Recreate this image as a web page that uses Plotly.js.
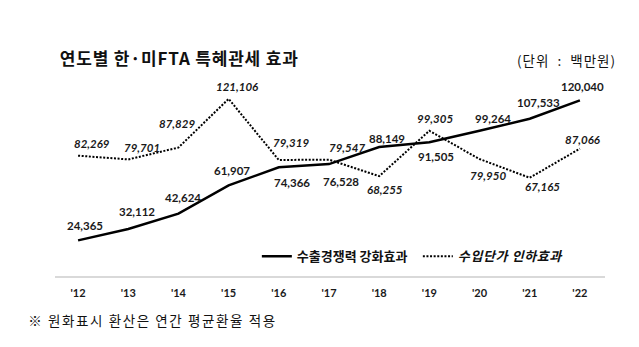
<!DOCTYPE html>
<html>
<head>
<meta charset="utf-8">
<script src="https://cdn.plot.ly/plotly-3.0.1.min.js"></script>
<style>
html,body{margin:0;padding:0;background:#fff;}
#chart{width:639px;height:347px;}
#chart .annotation[data-index="22"] text{letter-spacing:0.8px;}
#chart .annotation[data-index="23"] text{letter-spacing:1px;}
#chart .annotation[data-index="24"] text{letter-spacing:1.6px;}
#chart .legend .traces:nth-of-type(2) text{letter-spacing:0.6px;}
</style>
</head>
<body>
<div id="chart"></div>
<script>
// ---- data ----
const years = ["'12","'13","'14","'15","'16","'17","'18","'19","'20","'21","'22"];
const exportEffect = [24365, 32112, 42624, 61907, 74366, 76528, 88149, 91505, 99264, 107533, 120040];
const importEffect = [82269, 79701, 87829, 121106, 79319, 79547, 68255, 99305, 79950, 67165, 87066];
const seriesNames = ["수출경쟁력 강화효과", "수입단가 인하효과"];

// ---- label placement (pixel offsets from each point) ----
const exportLabelShift = [[7,15],[9,18],[5,16],[3,15],[13,-15],[12,-17],[8,9],[7,-14],[13,12],[9,16],[3,14]];
const importLabelShift = [[14,12],[14,12],[-1,24],[9,12],[12,17],[18,12],[6,-13],[6,12],[8,-16],[13,-9],[3,9]];

const xIdx = years.map((_, i) => i);
const fmt = v => v.toLocaleString('en-US');

const traces = [
  {x: xIdx, y: exportEffect, type: 'scatter', mode: 'lines', name: '<b>' + seriesNames[0] + '</b>',
   line: {color: '#000', width: 2.5}, hoverinfo: 'skip'},
  {x: xIdx, y: importEffect, type: 'scatter', mode: 'lines', name: '<b><i>' + seriesNames[1] + '</i></b>',
   line: {color: '#000', width: 2, dash: '2px,1.6px'}, hoverinfo: 'skip'}
];

const numFont = {family: 'Lato, "Open Sans", sans-serif', size: 11.5, color: '#1a1a1a'};
const annotations = [];
exportEffect.forEach((v, i) => annotations.push({
  x: i, y: v, xref: 'x', yref: 'y', text: '<b>' + fmt(v) + '</b>', showarrow: false,
  xshift: exportLabelShift[i][0], yshift: exportLabelShift[i][1], font: numFont
}));
importEffect.forEach((v, i) => annotations.push({
  x: i, y: v, xref: 'x', yref: 'y', text: '<b><i>' + fmt(v) + '</i></b>', showarrow: false,
  xshift: importLabelShift[i][0], yshift: importLabelShift[i][1], font: numFont
}));

annotations.push({
  xref: 'paper', yref: 'paper', x: 0.018, y: 1.115, xanchor: 'left', yanchor: 'middle',
  text: '<b>연도별 한·미FTA 특혜관세 효과</b>', showarrow: false,
  font: {family: '"Noto Sans CJK KR", sans-serif', size: 17, color: '#111'}
});
annotations.push({
  xref: 'paper', yref: 'paper', x: 1.013, y: 1.1, xanchor: 'right', yanchor: 'middle',
  text: '(단위  :  백만원)', showarrow: false,
  font: {family: '"Noto Sans CJK KR", sans-serif', size: 13.5, color: '#111'}
});
annotations.push({
  xref: 'paper', yref: 'paper', x: -0.022, y: -0.225, xanchor: 'left', yanchor: 'middle',
  text: '※ 원화표시 환산은 연간 평균환율 적용', showarrow: false,
  font: {family: '"Noto Sans CJK KR", sans-serif', size: 13.5, color: '#111'}
});

const layout = {
  width: 639, height: 347,
  margin: {l: 55, r: 34, t: 80, b: 71},
  paper_bgcolor: '#fff', plot_bgcolor: '#fff',
  showlegend: true,
  legend: {
    orientation: 'h', x: 0.367, y: 0.1, xanchor: 'left', yanchor: 'middle',
    font: {family: '"Noto Sans CJK KR", sans-serif', size: 13, color: '#111'},
    bgcolor: 'rgba(0,0,0,0)', itemwidth: 30, entrywidth: 116, entrywidthmode: 'pixels'
  },
  xaxis: {
    range: [-0.46, 10.5], tickmode: 'array', tickvals: xIdx,
    ticktext: years.map(t => '<b>' + t + '</b>'),
    showgrid: false, zeroline: false, showline: true, linecolor: '#d9d9d9', linewidth: 1.5,
    ticks: '', ticklabelstandoff: 6,
    tickfont: {family: 'Lato, sans-serif', size: 11, color: '#1a1a1a'}, fixedrange: true
  },
  yaxis: {range: [0, 134000], visible: false, showgrid: false, zeroline: false, fixedrange: true},
  annotations: annotations
};

Plotly.newPlot('chart', traces, layout, {staticPlot: true, displayModeBar: false});
</script>
</body>
</html>
